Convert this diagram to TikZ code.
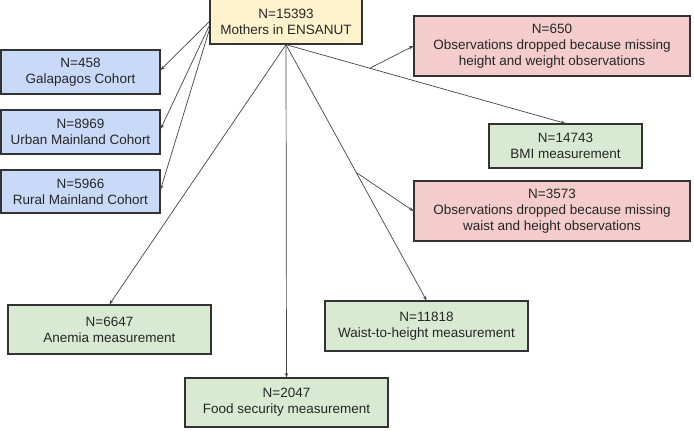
\documentclass[tikz,border=0pt]{standalone}
\usepackage{fontspec}
\setmainfont{Liberation Sans}
\usetikzlibrary{arrows.meta,calc}
\definecolor{boxline}{HTML}{333333}
\definecolor{edgeline}{HTML}{444444}
\definecolor{yfill}{HTML}{FFF2CC}
\definecolor{bfill}{HTML}{C9DAF8}
\definecolor{rfill}{HTML}{F4CCCC}
\definecolor{gfill}{HTML}{D9EAD3}
\tikzset{
  basebox/.style={draw=boxline, line width=1.2pt, rectangle, inner sep=0pt, align=center,
    font=\fontsize{13.5}{16}\selectfont, text=black!85},
  ybox/.style={basebox, fill=yfill},
  bbox/.style={basebox, fill=bfill},
  rbox/.style={basebox, fill=rfill},
  gbox/.style={basebox, fill=gfill},
  conn/.style={draw=edgeline, line width=0.7pt, -{Stealth[length=4.5pt,width=3.5pt]}},
  plainconn/.style={draw=edgeline, line width=0.7pt}
}
\begin{document}
\begin{tikzpicture}[x=1pt,y=-1pt]
\useasboundingbox (0,0) rectangle (694,431);
\fill[white] (0,0) rectangle (694,431);
% nodes
\node[ybox, minimum width=152pt, minimum height=45pt] (top) at (286,21.5) {N=15393\\Mothers in ENSANUT};
\node[bbox, minimum width=159pt, minimum height=44pt] (gal) at (80.5,72) {N=458\\Galapagos Cohort};
\node[bbox, minimum width=159pt, minimum height=44pt] (urb) at (80.5,132) {N=8969\\Urban Mainland Cohort};
\node[bbox, minimum width=159pt, minimum height=43pt] (rur) at (80.5,191.5) {N=5966\\Rural Mainland Cohort};
\node[rbox, minimum width=276pt, minimum height=60pt] (red1) at (552,46) {N=650\\Observations dropped because missing\\height and weight observations};
\node[gbox, minimum width=153pt, minimum height=44pt] (bmi) at (565.5,146) {N=14743\\BMI measurement};
\node[rbox, minimum width=276pt, minimum height=60pt] (red2) at (552,211) {N=3573\\Observations dropped because missing\\waist and height observations};
\node[gbox, minimum width=203pt, minimum height=49pt] (ane) at (109.5,329.5) {N=6647\\Anemia measurement};
\node[gbox, minimum width=203pt, minimum height=49pt] (food) at (286.5,402.5) {N=2047\\Food security measurement};
\node[gbox, minimum width=203pt, minimum height=50pt] (wth) at (426.5,326) {N=11818\\Waist-to-height measurement};
% connectors
\coordinate (b1) at ($(top.south)!0.3!(bmi.north)$);
\coordinate (b2) at ($(top.south)!0.5!(wth.north)$);
\draw[conn] (top.west) -- ($(gal.east)+(0,-2)$);
\draw[conn] ($(top.west)+(0,4)$) -- ($(urb.east)+(0,-3)$);
\draw[conn] ($(top.west)+(0,8)$) -- ($(rur.east)+(0,-2)$);
\draw[conn] (top.south) -- (bmi.north);
\draw[conn] (top.south) -- (wth.north);
\draw[conn] (top.south) -- (food.north);
\draw[conn] (top.south) -- (ane.north);
\draw[conn] (b1) -- (red1.west);
\draw[conn] (b2) -- (red2.west);
\end{tikzpicture}
\end{document}
